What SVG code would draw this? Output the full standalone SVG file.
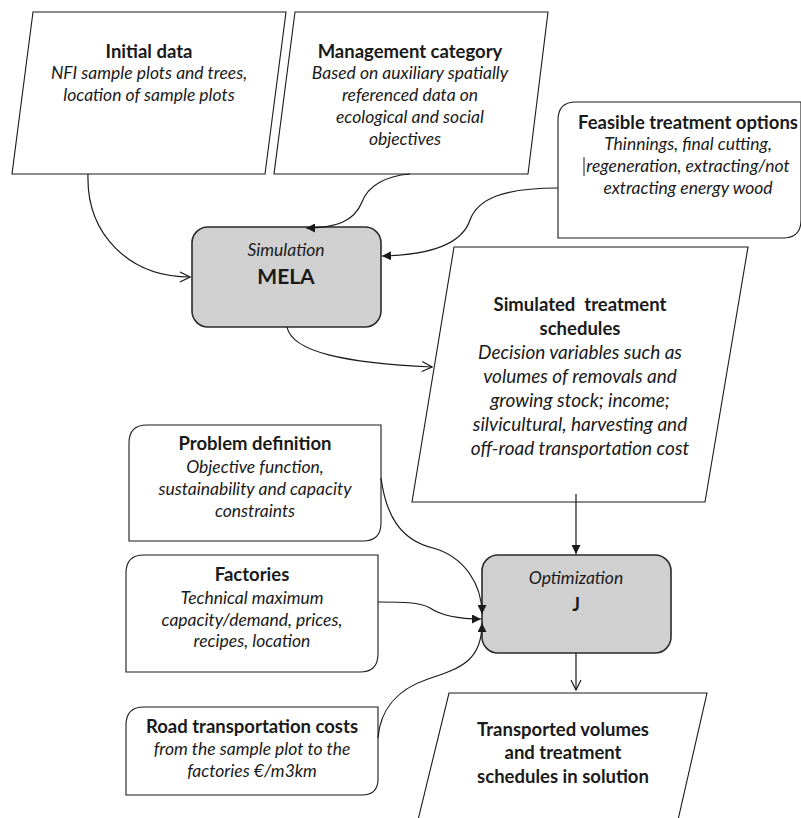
<svg xmlns="http://www.w3.org/2000/svg" width="801" height="818" viewBox="0 0 801 818">
<style>
  .shape { fill: #ffffff; stroke: #1a1a1a; stroke-width: 1.1; }
  .proc { fill: #d0d0d0; stroke: #2a2a2a; stroke-width: 1.6; }
  .t { font-family: Lato, "Liberation Sans", sans-serif; fill: #1a1a1a; text-anchor: middle; }
  .b { font-weight: bold; font-size: 18.5px; }
  .i { font-style: italic; font-size: 17.5px; }
  .i2 { font-style: italic; font-size: 19px; }
  .conn { fill: none; stroke: #1a1a1a; stroke-width: 1.2; }
</style>
<defs>
  <marker id="filled" viewBox="0 0 10 10" refX="10" refY="5" markerWidth="9" markerHeight="9" markerUnits="userSpaceOnUse" orient="auto">
    <path d="M0,0 L10,5 L0,10 Z" fill="#1a1a1a"/>
  </marker>
  <marker id="open" viewBox="0 0 12 12" refX="11" refY="6" markerWidth="12" markerHeight="12" markerUnits="userSpaceOnUse" orient="auto">
    <path d="M1,1 L11,6 L1,11" fill="none" stroke="#1a1a1a" stroke-width="1.2"/>
  </marker>
</defs>

<g id="initial-data">
  <polygon class="shape" points="33,12 286,12 265,174 12,174"/>
  <text class="t b" x="149" y="58">Initial data</text>
  <text class="t i" x="149" y="79">NFI sample plots and trees,</text>
  <text class="t i" x="149" y="101">location of sample plots</text>
</g>

<g id="management-category">
  <polygon class="shape" points="295,12 548,12 528,174 274,174"/>
  <text class="t b" x="410" y="58">Management category</text>
  <text class="t i" x="410" y="79">Based on auxiliary spatially</text>
  <text class="t i" x="410" y="101">referenced data on</text>
  <text class="t i" x="410" y="123">ecological and social</text>
  <text class="t i" x="405" y="145">objectives</text>
</g>

<g id="feasible-treatment-options">
  <path class="shape" d="M576,102 L801,102 L801,220 Q801,238 783,238 L558,238 L558,120 Q558,102 576,102 Z"/>
  <text class="t b" x="688" y="129" font-size="18px">Feasible treatment options</text>
  <text class="t i" x="688" y="150">Thinnings, final cutting,</text>
  <text class="t i" x="688" y="172">regeneration, extracting/not</text>
  <text class="t i" x="688" y="194">extracting energy wood</text>
  <line x1="584" y1="157" x2="584" y2="176" stroke="#1a1a1a" stroke-width="1"/>
</g>

<g id="mela">
  <rect class="proc" x="192" y="227" width="189" height="100" rx="16" ry="16"/>
  <text class="t i" x="286" y="256">Simulation</text>
  <text class="t" x="286" y="284" font-weight="bold" font-size="21px">MELA</text>
</g>

<g id="simulated-treatment-schedules">
  <polygon class="shape" points="454,247 748,247 705,502 412,502"/>
  <text class="t b" x="580" y="311" xml:space="preserve">Simulated  treatment</text>
  <text class="t b" x="580" y="335">schedules</text>
  <text class="t i2" x="580" y="359">Decision variables such as</text>
  <text class="t i2" x="580" y="383">volumes of removals and</text>
  <text class="t i2" x="580" y="407">growing stock; income;</text>
  <text class="t i2" x="580" y="431">silvicultural, harvesting and</text>
  <text class="t i2" x="580" y="455">off-road transportation cost</text>
</g>

<g id="problem-definition">
  <path class="shape" d="M147,425 L381,425 L381,523 Q381,541 363,541 L129,541 L129,443 Q129,425 147,425 Z"/>
  <text class="t b" x="255" y="450">Problem definition</text>
  <text class="t i" x="255" y="473">Objective function,</text>
  <text class="t i" x="255" y="495">sustainability and capacity</text>
  <text class="t i" x="255" y="517">constraints</text>
</g>

<g id="factories">
  <path class="shape" d="M144,555 L378,555 L378,654 Q378,672 360,672 L126,672 L126,573 Q126,555 144,555 Z"/>
  <text class="t b" x="252" y="581">Factories</text>
  <text class="t i" x="252" y="604">Technical maximum</text>
  <text class="t i" x="252" y="626">capacity/demand, prices,</text>
  <text class="t i" x="252" y="647">recipes, location</text>
</g>

<g id="road-transportation-costs">
  <path class="shape" d="M144,707 L378,707 L378,779 Q378,795 362,795 L126,795 L126,725 Q126,707 144,707 Z"/>
  <text class="t b" x="252" y="733">Road transportation costs</text>
  <text class="t i" x="252" y="755">from the sample plot to the</text>
  <text class="t i" x="252" y="777">factories €/m3km</text>
</g>

<g id="optimization-j">
  <rect class="proc" x="482" y="555" width="189" height="98" rx="16" ry="16"/>
  <text class="t i" x="576" y="584">Optimization</text>
  <text class="t" x="576" y="611" font-weight="bold" font-size="18px">J</text>
</g>

<g id="transported-volumes">
  <polygon class="shape" points="449,693 707,693 678,820 418,820"/>
  <text class="t b" x="563" y="736">Transported volumes</text>
  <text class="t b" x="563" y="759">and treatment</text>
  <text class="t b" x="563" y="783">schedules in solution</text>
</g>

<g id="connectors">
  <path class="conn" d="M88,174 C86,235 130,277 190,277" marker-end="url(#open)"/>
  <path class="conn" d="M410,174 C385,176 368,186 362,202 C354,222 335,228 306,228" marker-end="url(#filled)"/>
  <path class="conn" d="M558,188 C505,188 478,198 470,220 C462,244 430,255 382,256" marker-end="url(#filled)"/>
  <path class="conn" d="M287,327 C292,352 345,363 432,367" marker-end="url(#open)"/>
  <path class="conn" d="M576,494 L576,554" marker-end="url(#filled)"/>
  <path class="conn" d="M381,478 C386,515 400,540 433,548 C465,557 482,585 482,614" marker-end="url(#filled)"/>
  <path class="conn" d="M378,602 C402,602 420,602 430,608 C442,616 458,619 481,619" marker-end="url(#filled)"/>
  <path class="conn" d="M378,738 C380,712 395,690 428,679 C462,668 482,660 482,623" marker-end="url(#filled)"/>
  <path class="conn" d="M576,653 L576,690" marker-end="url(#open)"/>
</g>
</svg>
